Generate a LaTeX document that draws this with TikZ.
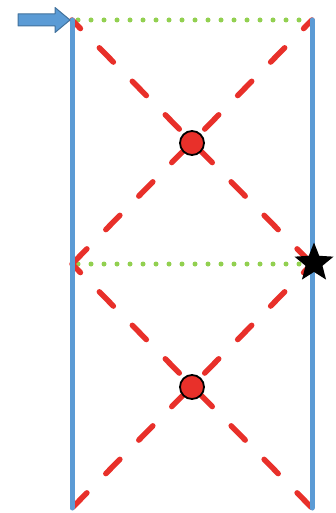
\documentclass[tikz,border=0pt]{standalone}
\usetikzlibrary{shapes.geometric}
\definecolor{pblue}{HTML}{5B9BD5}
\definecolor{pblueedge}{HTML}{41719C}
\definecolor{pred}{HTML}{E8302A}
\definecolor{pgreen}{HTML}{92D050}
\tikzset{
  wall/.style={pblue, line width=5pt, line cap=round},
  diag/.style={pred, line width=5.5pt, line cap=round, dash pattern=on 20pt off 27pt, dash phase=8pt},
  dots/.style={pgreen, line width=5pt, line cap=round, dash pattern=on 0pt off 13pt},
  ball/.style={circle, fill=pred, draw=black, line width=1.8pt, minimum size=24pt, inner sep=0pt},
  starmark/.style={star, star points=5, star point ratio=2.3, fill=black, minimum size=41pt, inner sep=0pt},
}
\begin{document}
\begin{tikzpicture}[x=1pt,y=-1pt]
\useasboundingbox (0,0) rectangle (335,513);
\coordinate (TL) at (72,20);
\coordinate (TR) at (312,20);
\coordinate (ML) at (72,264);
\coordinate (MR) at (312,264);
\coordinate (BL) at (72,508);
\coordinate (BR) at (312,508);
% dotted green lines
\draw[dots] ([xshift=6pt]TL) -- (TR);
\draw[dots] ([xshift=6pt]ML) -- (MR);
% red dashed diagonals
\draw[diag] (TL) -- (MR);
\draw[diag] (TR) -- (ML);
\draw[diag] (ML) -- (BR);
\draw[diag] (MR) -- (BL);
% walls
\draw[wall] (TL) -- (BL);
\draw[wall] (TR) -- (BR);
% balls
\node[ball] (b1) at (192,143) {};
\node[ball] (b2) at (192,387) {};
% star
\node[starmark] (s) at (314,263) {};
% arrow
\draw[pblueedge, fill=pblue, line width=1pt, line join=round]
  (18,14) -- (55,14) -- (55,7.5) -- (70,20) -- (55,32.5) -- (55,26) -- (18,26) -- cycle;
\end{tikzpicture}
\end{document}
